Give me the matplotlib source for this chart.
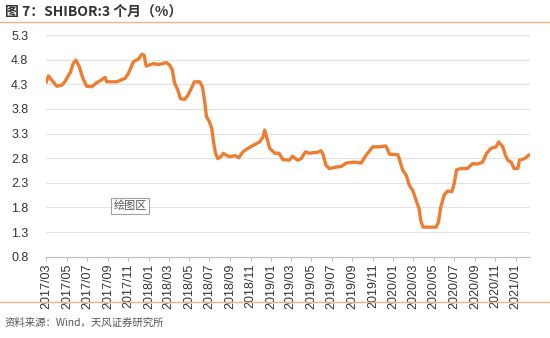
import matplotlib
matplotlib.use("Agg")
import matplotlib.pyplot as plt
import matplotlib.dates as mdates
import pandas as pd

plt.rcParams['font.family'] = ['Liberation Sans', 'Noto Sans CJK SC', 'DejaVu Sans']

dates = ["2017-03-01", "2017-03-07", "2017-04-01", "2017-04-16", "2017-04-25", "2017-05-12",
         "2017-05-20", "2017-05-28", "2017-06-07", "2017-06-17", "2017-06-29", "2017-07-14",
         "2017-07-29", "2017-08-13", "2017-08-23", "2017-08-28", "2017-09-27", "2017-10-22",
         "2017-11-01", "2017-11-16", "2017-12-01", "2017-12-11", "2017-12-18", "2017-12-24",
         "2018-01-15", "2018-01-30", "2018-02-22", "2018-03-04", "2018-03-12", "2018-03-19",
         "2018-03-29", "2018-04-05", "2018-04-18", "2018-04-28", "2018-05-08", "2018-05-17",
         "2018-06-02", "2018-06-10", "2018-06-17", "2018-06-22", "2018-07-01", "2018-07-08",
         "2018-07-14", "2018-07-19", "2018-07-26", "2018-08-04", "2018-08-12", "2018-08-20",
         "2018-08-30", "2018-09-15", "2018-09-27", "2018-10-09", "2018-10-24", "2018-11-14",
         "2018-11-28", "2018-12-08", "2018-12-13", "2018-12-20", "2018-12-28", "2019-01-12",
         "2019-01-25", "2019-02-05", "2019-02-25", "2019-03-06", "2019-03-21", "2019-04-01",
         "2019-04-14", "2019-04-25", "2019-05-20", "2019-05-30", "2019-06-04", "2019-06-14",
         "2019-06-24", "2019-07-14", "2019-07-29", "2019-08-13", "2019-09-07", "2019-09-27",
         "2019-10-12", "2019-11-01", "2019-11-21", "2019-12-10", "2019-12-21", "2020-01-15",
         "2020-01-22", "2020-01-29", "2020-02-09", "2020-02-18", "2020-02-28", "2020-03-09",
         "2020-03-18", "2020-03-23", "2020-03-30", "2020-05-08", "2020-05-15", "2020-05-22",
         "2020-06-01", "2020-06-11", "2020-06-24", "2020-07-01", "2020-07-08", "2020-07-21",
         "2020-08-10", "2020-08-25", "2020-09-09", "2020-09-24", "2020-10-06", "2020-10-19",
         "2020-11-03", "2020-11-11", "2020-11-23", "2020-12-01", "2020-12-08", "2020-12-18",
         "2020-12-27", "2021-01-07", "2021-01-12", "2021-01-27", "2021-02-09"]

shibor_3m = [4.35, 4.47, 4.26, 4.28, 4.35, 4.55,
             4.72, 4.79, 4.66, 4.44, 4.26, 4.25,
             4.33, 4.39, 4.44, 4.35, 4.35, 4.42,
             4.52, 4.76, 4.81, 4.91, 4.89, 4.67,
             4.72, 4.70, 4.74, 4.69, 4.59, 4.32,
             4.18, 4.01, 3.99, 4.08, 4.22, 4.35,
             4.35, 4.25, 3.94, 3.64, 3.54, 3.40,
             3.10, 2.90, 2.79, 2.83, 2.90, 2.86,
             2.83, 2.85, 2.81, 2.93, 3.00, 3.08,
             3.13, 3.23, 3.37, 3.20, 3.00, 2.90,
             2.90, 2.77, 2.76, 2.84, 2.76, 2.79,
             2.93, 2.90, 2.92, 2.95, 2.90, 2.66,
             2.59, 2.62, 2.63, 2.70, 2.72, 2.70,
             2.86, 3.03, 3.03, 3.05, 2.88, 2.87,
             2.72, 2.56, 2.45, 2.25, 2.15, 1.95,
             1.78, 1.54, 1.40, 1.40, 1.50, 1.81,
             2.05, 2.13, 2.12, 2.28, 2.56, 2.59,
             2.59, 2.69, 2.68, 2.72, 2.90, 3.00,
             3.03, 3.13, 3.03, 2.86, 2.76, 2.72,
             2.59, 2.59, 2.76, 2.79, 2.86]

y_ticks = [0.8, 1.3, 1.8, 2.3, 2.8, 3.3, 3.8, 4.3, 4.8, 5.3]

title = "图 7：SHIBOR:3 个月（%）"
source = "资料来源：Wind，天风证券研究所"

W, H = 550, 338
fig = plt.figure(figsize=(W / 100, H / 100), dpi=100)
ax = fig.add_axes([46.4 / W, 1 - 256.7 / H, (529.5 - 46.4) / W, (256.7 - 35) / H])

x = pd.to_datetime(dates)
ax.plot(x, shibor_3m, color='#ED7D31', lw=2.4, solid_joinstyle='round')

ax.set_ylim(0.8, 5.3)
ax.set_yticks(y_ticks)
ax.set_yticklabels([f"{v:.1f}" for v in y_ticks], fontsize=9, color='#333333')
ax.set_xlim(pd.Timestamp("2017-03-01"), pd.Timestamp("2021-02-11"))
ax.xaxis.set_major_locator(mdates.MonthLocator(bymonth=[1, 3, 5, 7, 9, 11]))
ax.xaxis.set_major_formatter(mdates.DateFormatter('%Y/%m'))
for lab in ax.get_xticklabels():
    lab.set_rotation(90)
    lab.set_fontsize(9)
    lab.set_color('#333333')
ax.tick_params(axis='x', length=3, width=0.8, color='#BFBFBF', pad=2)
ax.tick_params(axis='y', length=0, pad=13)
ax.grid(axis='y', color='#E3E3E3', lw=0.8)
ax.set_axisbelow(True)
for s in ['top', 'right', 'left']:
    ax.spines[s].set_visible(False)
ax.spines['bottom'].set_color('#BFBFBF')
ax.spines['bottom'].set_linewidth(0.8)

# header / footer
fig.text(5 / W, 1 - 12 / H, title, fontsize=10, color='#333333', va='center', ha='left',
         family=['Noto Sans CJK SC', 'DejaVu Sans'], fontweight='bold')
fig.add_artist(plt.Line2D([0, 1], [1 - 22 / H, 1 - 22 / H], color='#F4B183', lw=1))
fig.add_artist(plt.Line2D([0, 1], [1 - 302 / H, 1 - 302 / H], color='#F4B183', lw=1))
fig.text(5 / W, 1 - 323 / H, source, fontsize=7.5, color='#555555', va='center', ha='left',
         family=['Noto Sans CJK SC', 'DejaVu Sans'])

# "plot area" tooltip
fig.text(130 / W, 1 - 206 / H, "绘图区", fontsize=8, color='#555555', va='center', ha='center',
         family=['Noto Sans CJK SC', 'DejaVu Sans'],
         bbox=dict(boxstyle='square,pad=0.25', fc='white', ec='#A0A0A0', lw=0.8))

fig.savefig("out.png", dpi=100)
